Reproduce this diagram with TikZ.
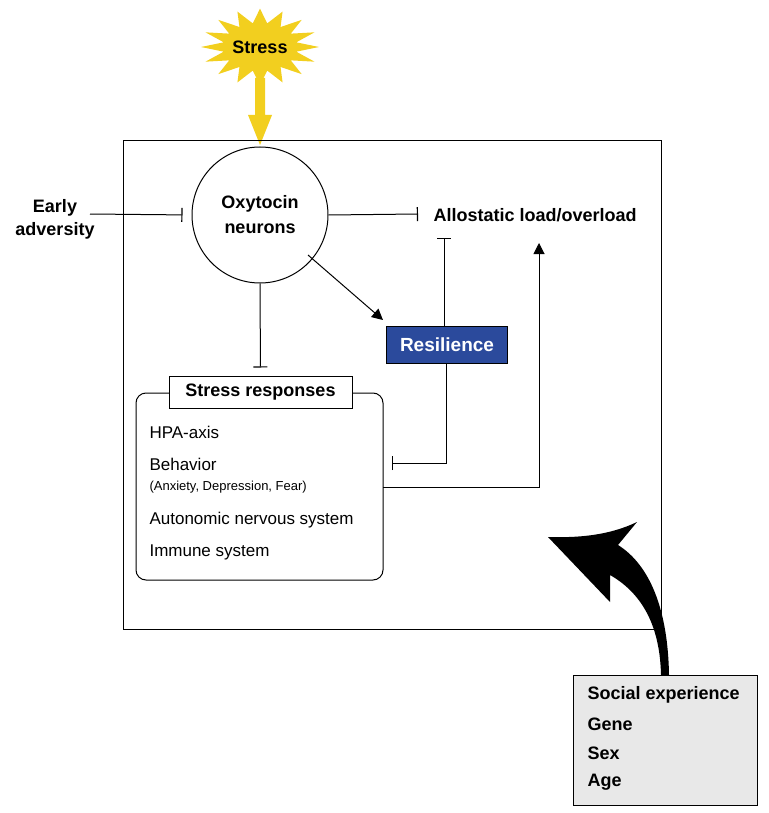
\documentclass[tikz,border=0pt]{standalone}
\usepackage{fontspec}
\setmainfont{Liberation Sans}
\usetikzlibrary{arrows.meta}
\definecolor{sy}{HTML}{F2CF1F}
\definecolor{rb}{HTML}{2B4A9C}
\begin{document}
\begin{tikzpicture}[x=1pt,y=-1pt,
  ln/.style={line width=1pt},
  inh/.style={ln,-{Bar[width=14pt,line width=1.2pt]}},
  act/.style={ln,-{Triangle[length=11pt,width=11pt]}},
  bt/.style={font=\bfseries\fontsize{18}{21}\selectfont},
  it/.style={font=\fontsize{17}{20}\selectfont,anchor=west}]
\useasboundingbox (0,0) rectangle (768,813);
% star
\fill[sy] plot[samples=33,domain=0:32] ({260+(48+11*cos(\x*180))*cos(\x*360/32)},{47+(48+11*cos(\x*180))*0.65*sin(\x*360/32)}) -- cycle;
\node[bt] (stress) at (260,47) {Stress};
\fill[sy] (255,78) -- (265,78) -- (265,115) -- (272,115) -- (260,145) -- (248,115) -- (255,115) -- cycle;
% frame
\draw[ln] (123,141) rectangle (661,629);
\node[draw,circle,ln,minimum size=136pt,bt,align=center] (oxy) at (260,215) {Oxytocin\\[4pt]neurons};
\node[bt,align=center] (early) at (55,219) {Early\\[2pt]adversity};
\draw[inh,shorten >=9pt] (90,214) -- (oxy.west);
\node[bt,anchor=west] (allo) at (430,215) {Allostatic load/overload};
\draw[inh] (oxy.east) -- (418,214);
\node[fill=rb,draw=black,text=white,minimum width=121pt,minimum height=37pt,font=\bfseries\fontsize{19}{22}\selectfont] (res) at (447,344.5) {Resilience};
\coordinate (a1) at (444,238);
\draw[inh] (res.north -| a1) -- (a1);
\draw[act] (308,255) -- (383,320);
\draw[ln,rounded corners=10pt] (136,393) rectangle (383,580);
\node[draw,ln,fill=white,bt,minimum width=183pt,minimum height=32pt] (sr) at (260.5,392) {Stress responses};
\draw[inh,shorten >=8pt] (oxy.south) -- (sr.north);
\node[it] (hpa) at (146,432) {HPA-axis};
\node[it] (beh) at (146,464) {Behavior};
\node[it,font=\fontsize{13}{15}\selectfont] (anx) at (146,487) {(Anxiety, Depression, Fear)};
\node[it] (ans) at (146,520) {Autonomic nervous system};
\node[it] (imm) at (146,552) {Immune system};
\coordinate (b1) at (392,463);
\draw[inh] (res.south -| 446,0) |- (b1);
\coordinate (c1) at (383,487);
\coordinate (c2) at (539,243);
\draw[act] (c1) -| (c2);
% social box
\node[draw,ln,fill=black!9,minimum width=184pt,minimum height=130pt] (soc) at (665,740) {};
\node[bt,anchor=west] (s1) at (584,695) {Social experience};
\node[bt,anchor=west] (s2) at (584,724) {Gene};
\node[bt,anchor=west] (s3) at (584,753) {Sex};
\node[bt,anchor=west] (s4) at (584,782) {Age};
% curved arrow
\fill (669,675) .. controls (668,610) and (650,565) .. (618,545) -- (637,522)
  .. controls (610,535) and (580,538) .. (548,537) -- (610,602) -- (610,575)
  .. controls (645,595) and (660,630) .. (661,675) -- cycle;
\end{tikzpicture}
\end{document}
